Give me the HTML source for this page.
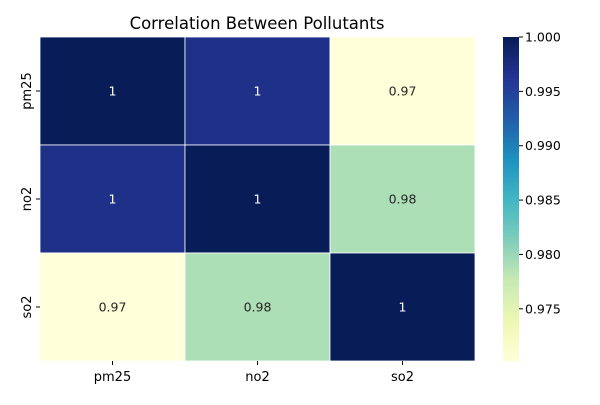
<!DOCTYPE html>
<html><head><meta charset="utf-8"><style>
body{margin:0;background:#fff;font-family:"Liberation Sans","DejaVu Sans",sans-serif;}
svg text{font-family:"DejaVu Sans","Liberation Sans",sans-serif;}
</style></head><body>
<svg id="chart" width="600" height="400" viewBox="0 0 600 400" xmlns="http://www.w3.org/2000/svg">
<text x="257" y="29" font-size="16.5" text-anchor="middle" fill="#000">Correlation Between Pollutants</text>
<g id="cells"></g>
<g id="axes"></g>
<g id="cbar"></g>
</svg>
<script>
const labels = ["pm25","no2","so2"];
const rowPm25 = [1.0, 0.997, 0.9702];
const rowNo2 = [0.997, 1.0, 0.979];
const rowSo2 = [0.9702, 0.979, 1.0];
const annotPm25 = ["1","1","0.97"];
const annotNo2 = ["1","1","0.98"];
const annotSo2 = ["0.97","0.98","1"];
const cbarTicks = [1.000, 0.995, 0.990, 0.985, 0.980, 0.975];
const vmin = 0.9702, vmax = 1.0;

const rows=[rowPm25,rowNo2,rowSo2], annots=[annotPm25,annotNo2,annotSo2];
const X0=40,X1=475,Y0=37,Y1=361;
const cw=(X1-X0)/labels.length, ch=(Y1-Y0)/labels.length;
const NS="http://www.w3.org/2000/svg";
const stops=["#ffffd9","#edf8b1","#c7e9b4","#7fcdbb","#41b6c4","#1d91c0","#225ea8","#253494","#081d58"];
function hex(c){return [1,3,5].map(i=>parseInt(c.substr(i,2),16));}
function cmap(t){t=Math.max(0,Math.min(1,t));const p=t*8,i=Math.min(7,Math.floor(p)),f=p-i;const a=hex(stops[i]),b=hex(stops[i+1]);return "rgb("+a.map((v,k)=>Math.round(v+(b[k]-v)*f)).join(",")+")";}
function norm(v){return (v-vmin)/(vmax-vmin);}
function mk(tag,attrs,parent){const e=document.createElementNS(NS,tag);for(const k in attrs)e.setAttribute(k,attrs[k]);parent.appendChild(e);return e;}
const cells=document.getElementById('cells'),axes=document.getElementById('axes'),cb=document.getElementById('cbar');
rows.forEach((r,i)=>r.forEach((v,j)=>{
  const t=norm(v);
  const rc=mk('rect',{x:X0+j*cw,y:Y0+i*ch,width:cw,height:ch,fill:cmap(t),stroke:'#fff','stroke-width':0.8},cells);
  
  
  const tx=mk('text',{x:X0+j*cw+cw/2,y:Y0+i*ch+ch/2+4.5,'font-size':12.5,'text-anchor':'middle',fill:t>0.5?'#fff':'#262626'},cells);
  tx.textContent=annots[i][j];
  
  
}));
labels.forEach((l,j)=>{
  mk('line',{x1:X0+j*cw+cw/2,x2:X0+j*cw+cw/2,y1:Y1,y2:Y1+4,stroke:'#000'},axes);
  const t=mk('text',{x:X0+j*cw+cw/2,y:Y1+20,'font-size':13,'text-anchor':'middle'},axes);
  t.textContent=l;
  
  
  mk('line',{x1:X0-4,x2:X0,y1:Y0+j*ch+ch/2,y2:Y0+j*ch+ch/2,stroke:'#000'},axes);
  const yt=mk('text',{x:0,y:0,'font-size':13,'text-anchor':'middle',transform:'translate('+(X0-9)+','+(Y0+j*ch+ch/2)+') rotate(-90)'},axes);
  yt.textContent=l;
  
  
});
const CX=503,CW=16;
for(let k=0;k<324;k++){mk('rect',{x:CX,y:Y1-k-1,width:CW,height:1.3,fill:cmap(k/323)},cb);}
cbarTicks.forEach(v=>{
  const y=Y1-norm(v)*(Y1-Y0);
  mk('line',{x1:CX+CW,x2:CX+CW+4,y1:y,y2:y,stroke:'#000'},cb);
  const t=mk('text',{x:CX+CW+6,y:y+4.5,'font-size':12.5},cb);
  t.textContent=v.toFixed(3);
  
  
});


</script>
</body></html>
